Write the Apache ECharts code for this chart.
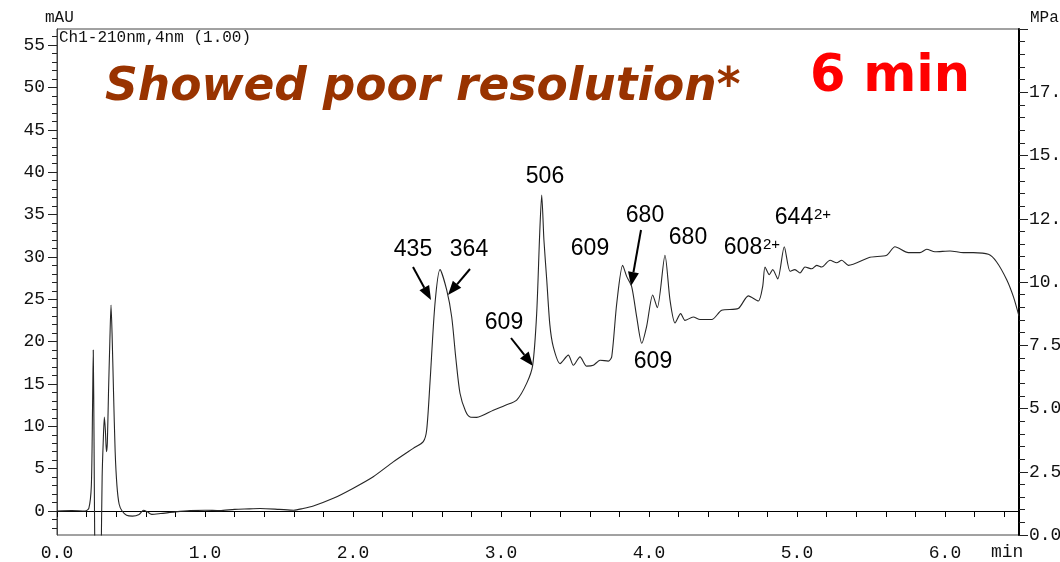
<!DOCTYPE html>
<html>
<head>
<meta charset="utf-8">
<script src="https://cdn.jsdelivr.net/npm/echarts@6/dist/echarts.min.js"></script>
<style>
  html, body { margin: 0; padding: 0; background: #fff; }
  #chart { width: 1060px; height: 562px; }
</style>
</head>
<body>
<div id="chart"></div>
<script>
// chromatogram trace, Ch1 210nm (time in min, absorbance in mAU)
let times = [
    0, 0.1, 0.19, 0.215, 0.232, 0.24, 0.245, 0.25, 0.257, 0.27, 0.29, 0.298, 0.305, 0.312, 0.32,
    0.327, 0.334, 0.34, 0.348, 0.357, 0.365, 0.372, 0.382, 0.393, 0.405, 0.42, 0.44, 0.47, 0.51,
    0.555, 0.585, 0.61, 0.64, 0.7, 0.8, 0.9, 1.0, 1.1, 1.2, 1.3, 1.372, 1.5, 1.6, 1.662, 1.732,
    1.867, 2.002, 2.137, 2.272, 2.407, 2.475, 2.498, 2.52, 2.554, 2.588, 2.633, 2.667, 2.695,
    2.723, 2.76, 2.791, 2.836, 2.948, 3.03, 3.106, 3.174, 3.214, 3.241, 3.262, 3.275, 3.29, 3.309,
    3.33, 3.353, 3.399, 3.455, 3.489, 3.534, 3.579, 3.624, 3.669, 3.725, 3.748, 3.782, 3.822,
    3.849, 3.883, 3.917, 3.951, 3.984, 4.025, 4.056, 4.108, 4.142, 4.176, 4.214, 4.243, 4.299,
    4.345, 4.424, 4.491, 4.603, 4.671, 4.739, 4.768, 4.784, 4.813, 4.836, 4.87, 4.914, 4.953,
    4.986, 5.02, 5.054, 5.099, 5.133, 5.167, 5.223, 5.268, 5.302, 5.347, 5.493, 5.606, 5.662,
    5.752, 5.831, 5.876, 5.932, 6.034, 6.124, 6.191, 6.293, 6.349, 6.417, 6.462, 6.5
]
let mau = [
    0, 0.05, 0, 0.3, 3, 12, 19.0, 9, -8, -20, -20, -6, 4, 8, 11.1,
    9.5, 7.0, 8, 14, 20, 24.3, 21, 14, 7, 3, 0.8, 0, -0.5, -0.6,
    -0.4, 0.1, -0.1, -0.4, -0.3, -0.1, 0.05, 0.1, 0.05, 0.2, 0.25, 0.3, 0.2, 0.1, 0.3, 0.6,
    1.5, 2.7, 4.05, 5.8, 7.4, 8.2, 9.6, 15.1, 24.5, 28.5, 26.1, 22.9, 18,
    13.9, 11.8, 11.1, 11.06, 11.9, 12.5, 13.1, 15.1, 17.2, 23.3, 33, 37.3, 32, 27.3,
    22, 19.4, 17.4, 18.4, 17.2, 18.2, 17.1, 17.2, 17.8, 17.7, 18.2, 24.5, 29.0,
    27.7, 26.5, 22.9, 19.8, 21.8, 25.5, 24.0, 30.2, 24.9, 22.2, 23.3, 22.5, 22.9,
    22.6, 22.6, 23.7, 23.9, 25.4, 24.8, 26.5, 28.8, 27.9, 28.5, 27.4, 31.2, 28.3,
    28.5, 28.1, 28.8, 28.6, 29.0, 28.8, 29.6, 29.3, 29.6, 29.0, 29.95, 30.2, 31.2,
    30.5, 30.5, 30.9, 30.6, 30.7, 30.5, 30.5, 30.3, 29.4, 27.3, 25.3, 23.0
]

// axis labels
let xLabels = [0, 1, 2, 3, 4, 5, 6]
let yLabels = [0, 5, 10, 15, 20, 25, 30, 35, 40, 45, 50, 55]

let yMinor = []
for (let i = -2; i <= 56; i++) {
    yMinor.push(i)
}

let traceData = times.map((t, i) => [t, mau[i]])

let monoFont = '"Liberation Mono", "DejaVu Sans Mono", monospace'
let labelFont = '23px "Liberation Sans", Arial, sans-serif'

function txt(x, y, text, font, fill, align) {
    return {
        type: 'text',
        x: x,
        y: y,
        z: 100,
        style: {
            text: text,
            font: font,
            fill: fill || '#000',
            align: align || 'center',
            verticalAlign: 'middle'
        }
    }
}

function arrow(x1, y1, x2, y2) {
    let dx = x2 - x1
    let dy = y2 - y1
    let len = Math.sqrt(dx * dx + dy * dy)
    let ux = dx / len
    let uy = dy / len
    let hl = 14
    let hw = 5.5
    let bx = x2 - ux * hl
    let by = y2 - uy * hl
    return {
        type: 'group',
        z: 100,
        children: [
            {
                type: 'line',
                shape: {x1: x1, y1: y1, x2: bx, y2: by},
                style: {stroke: '#000', lineWidth: 2}
            },
            {
                type: 'polygon',
                shape: {points: [[x2, y2], [bx - uy * hw, by + ux * hw], [bx + uy * hw, by - ux * hw]]},
                style: {fill: '#000'}
            }
        ]
    }
}

let myChart = echarts.init(document.getElementById('chart'), null, {renderer: 'canvas'})

let option = {
    backgroundColor: '#fff',
    animation: false,
    grid: {
        left: 57,
        right: 41,
        top: 29,
        bottom: 27,
        containLabel: false,
        outerBoundsMode: 'none',
        show: true,
        borderColor: '#444',
        borderWidth: 1
    },
    xAxis: {
        type: 'value',
        min: 0,
        max: 6.5,
        interval: 0.2,
        axisLine: {show: true, lineStyle: {color: '#000', width: 1}},
        axisTick: {show: true, inside: false, length: 6, lineStyle: {color: '#000'}},
        splitLine: {show: false},
        axisLabel: {
            interval: 0,
            margin: 9,
            color: '#111',
            fontFamily: monoFont,
            fontSize: 18,
            showMaxLabel: false,
            formatter: function (v) {
                let r = Math.round(v)
                if (Math.abs(v - r) < 1e-6 && xLabels.indexOf(r) >= 0) {
                    return r.toFixed(1)
                }
                return ''
            }
        }
    },
    yAxis: [
        {
            type: 'value',
            position: 'left',
            min: -2.83,
            max: 56.9,
            axisLine: {show: true, lineStyle: {color: '#444', width: 1}},
            axisTick: {show: true, length: 9, customValues: yLabels, lineStyle: {color: '#222'}},
            axisLabel: {
                customValues: yLabels,
                margin: 12,
                color: '#111',
                fontFamily: monoFont,
                fontSize: 18
            },
            splitLine: {show: false}
        },
        {
            type: 'value',
            position: 'left',
            min: -2.83,
            max: 56.9,
            axisLine: {show: false},
            axisTick: {show: true, length: 5, customValues: yMinor, lineStyle: {color: '#222'}},
            axisLabel: {show: false},
            splitLine: {show: false}
        },
        {
            type: 'value',
            position: 'right',
            min: 0,
            max: 20,
            interval: 2.5,
            axisLine: {show: true, lineStyle: {color: '#000', width: 2}},
            axisTick: {show: true, length: 9, lineStyle: {color: '#222'}},
            minorTick: {show: true, splitNumber: 5, length: 6, lineStyle: {color: '#222'}},
            axisLabel: {
                margin: 10,
                color: '#111',
                fontFamily: monoFont,
                fontSize: 18,
                formatter: function (v) {
                    return v >= 20 ? '' : v.toFixed(1)
                }
            },
            splitLine: {show: false}
        }
    ],
    series: [
        {
            name: 'Ch1-210nm',
            type: 'line',
            yAxisIndex: 0,
            data: traceData,
            showSymbol: false,
            smooth: 0.25,
            clip: true,
            lineStyle: {color: '#262626', width: 1.1}
        }
    ],
    graphic: [
        txt(45, 18, 'mAU', '16px ' + monoFont, '#111', 'left'),
        txt(1030, 18, 'MPa', '16px ' + monoFont, '#111', 'left'),
        txt(59, 38, 'Ch1-210nm,4nm (1.00)', '16px ' + monoFont, '#111', 'left'),
        txt(991, 552, 'min', '18px ' + monoFont, '#111', 'left'),
        txt(105, 88, 'Showed poor resolution*', 'italic bold 45.5px "DejaVu Sans", Verdana, sans-serif', '#993300', 'left'),
        txt(890, 78, '6 min', 'bold 51px "DejaVu Sans", Verdana, sans-serif', '#ff0000', 'center'),

        txt(413, 250, '435', labelFont),
        txt(469, 250, '364', labelFont),
        txt(545, 177, '506', labelFont),
        txt(590, 249, '609', labelFont),
        txt(504, 323, '609', labelFont),
        txt(645, 216, '680', labelFont),
        txt(688, 238, '680', labelFont),
        txt(653, 362, '609', labelFont),
        txt(743, 248, '608', labelFont),
        txt(763, 245, '2+', '15px "Liberation Sans", Arial, sans-serif', '#000', 'left'),
        txt(794, 218, '644', labelFont),
        txt(814, 215, '2+', '15px "Liberation Sans", Arial, sans-serif', '#000', 'left'),

        arrow(413, 267, 431, 300),
        arrow(470, 269, 448, 295),
        arrow(511, 338, 533, 366),
        arrow(641, 230, 631, 286)
    ]
}

myChart.setOption(option)
</script>
</body>
</html>
